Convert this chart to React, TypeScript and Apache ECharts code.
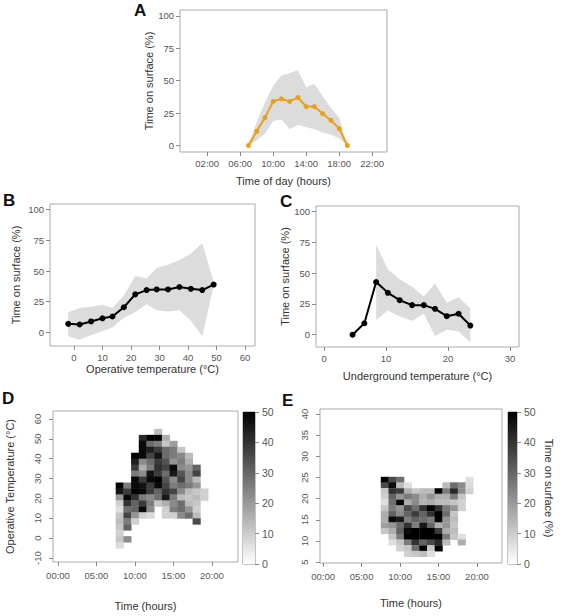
import React, { useEffect, useRef } from "react";
import * as echarts from "echarts";

const FONT = "'Liberation Sans', Arial, sans-serif";

// ---------- Panel A: time of day ----------
const hoursA = [7, 8, 9, 10, 11, 12, 13, 14, 15, 16, 17, 18, 19];
const surfaceA = [0, 11, 21.5, 34, 36, 34, 37, 30, 30, 24.5, 19.5, 13, 0];
const lowerA = [0, 4, 9, 19, 20, 12.5, 16, 14, 12.5, 10, 8.5, 5.5, 0];
const upperA = [0, 18, 33, 46, 54, 56, 58, 45, 47.5, 38, 29, 21.5, 0];
const hourTicksA = [2, 6, 10, 14, 18, 22];
const pctTicks = [0, 25, 50, 75, 100];

// ---------- Panel B: operative temperature ----------
const tempB = [-2, 2, 6, 10, 13.5, 17.5, 21.5, 25.5, 29, 33, 37, 41, 45, 49];
const surfaceB = [7, 6.5, 9, 11.5, 13, 20.5, 31, 34.5, 35, 35, 37, 35.5, 34.5, 39];
const lowerB = [-3, -6, -2, 1, 4, 12, 16.5, 23, 18, 17, 18, 9.5, -3, 38];
const upperB = [16.5, 20, 21, 22.5, 20, 30, 46, 44, 52.5, 55, 59, 64, 72.5, 41];
const tempTicksB = [0, 10, 20, 30, 40, 50, 60];

// ---------- Panel C: underground temperature ----------
const tempC = [4.6, 6.5, 8.4, 10.3, 12.2, 14.2, 16.1, 17.9, 19.8, 21.7, 23.6];
const surfaceC = [0, 9.3, 42.8, 34, 28, 24, 24, 21, 15, 17, 7.4];
const lowerC = [null, null, 12, 19.6, 14.7, 11.4, 17, -1, 4, 2.5, -6];
const upperC = [null, null, 73, 53, 45, 39, 31, 41.5, 26, 30.5, 21.5];
const tempTicksC = [0, 10, 20, 30];

// ---------- Panel D: heatmap hour x operative temperature ----------
const hoursHeat = [8, 9, 10, 11, 12, 13, 14, 15, 16, 17, 18, 19];
const tempBinsD = [53.5, 50.5, 47.5, 44.5, 41.5, 38.5, 35.5, 32.5, 29.5, 26.5, 23.5, 20.5, 17.5, 14.5, 11.5, 8.5, 5.5, 2.5, -0.5, -3.5];
const binSizeD = 3;
const _ = null;
const surfaceD = [
  [_, _, _, _, _, 12, _, _, _, _, _, _],
  [_, _, _, 42, 50, 50, 15, _, _, _, _, _],
  [_, _, _, 48, 28, 25, 10, 18, _, _, _, _],
  [_, _, _, 48, 44, 38, 28, 25, 10, _, _, _],
  [_, _, 50, 48, 36, 46, 28, 25, 22, 12, _, _],
  [_, _, 44, 22, 28, 38, 33, 20, 25, 15, _, _],
  [_, _, 38, 15, 25, 40, 36, 48, 22, 20, 30, _],
  [_, _, 25, 22, 46, 38, 28, 45, 33, 22, 36, _],
  [_, _, 48, 38, 48, 50, 33, 22, 36, 22, 12, _],
  [50, 25, 48, 46, 38, 48, 36, 25, 28, 25, 20, _],
  [46, 38, 50, 48, 38, 30, 40, 36, 22, 12, 10, 8],
  [20, 48, 40, 25, 22, 28, 45, 25, 12, 10, 12, 8],
  [8, 40, 30, 38, 25, 10, 15, 22, 28, 12, 10, _],
  [5, 28, 30, 48, 22, _, 8, 25, 28, 20, 8, _],
  [10, 36, 20, 8, 6, _, 8, 8, 22, 28, 12, _],
  [12, 25, 8, _, _, _, _, _, _, _, 35, _],
  [10, 30, _, _, _, _, _, _, _, _, _, _],
  [8, _, _, _, _, _, _, _, _, _, _, _],
  [10, 22, _, _, _, _, _, _, _, _, _, _],
  [6, _, _, _, _, _, _, _, _, _, _, _],
];
const hourTicksHeat = [0, 5, 10, 15, 20];
const tempTicksD = [-10, 0, 10, 20, 30, 40, 50, 60];

// ---------- Panel E: heatmap hour x underground temperature ----------
const tempBinsE = [24.5, 23.2, 21.8, 20.5, 19.1, 17.8, 16.4, 15.1, 13.7, 12.4, 11.0, 9.7, 8.3, 7.0];
const binSizeE = 1.35;
const surfaceE = [
  [50, 35, 28, _, _, _, _, _, _, _, _, 5],
  [35, 48, 12, 5, _, _, _, _, 12, 28, 22, 6],
  [10, 40, 38, 15, 10, 12, 12, 50, 25, 42, 22, 8],
  [8, 30, 20, 25, 22, 15, 20, 15, 15, 25, 10, _],
  [5, 28, 50, 15, 22, 14, 15, 12, 12, 10, 8, _],
  [10, 25, 20, 35, 28, 40, 50, 40, 25, 20, 8, _],
  [15, 30, 22, 30, 38, 30, 40, 50, 28, 10, _, _],
  [15, 48, 45, 25, 30, 28, 25, 50, 20, 12, _, _],
  [18, 20, 28, 40, 25, 45, 30, 15, 20, 10, _, _],
  [10, 15, 30, 48, 50, 50, 50, 38, 15, 12, _, _],
  [_, 10, 25, 50, 50, 50, 50, 50, 25, 10, 5, _],
  [_, 5, 10, 25, 40, 30, 35, 42, 12, _, 15, _],
  [_, _, 8, 10, 28, 50, 10, 50, _, _, _, _],
  [_, _, _, 8, 10, 12, 5, _, _, _, _, _],
];
const tempTicksE = [5, 10, 15, 20, 25, 30, 35, 40];
const colorTicks = [0, 10, 20, 30, 40, 50];

const hhmm = (v: number) => String(v).padStart(2, "0") + ":00";

function axis(o: any) {
  return {
    type: "value",
    gridIndex: o.grid,
    min: o.min,
    max: o.max,
    position: o.position,
    show: o.show ?? true,
    axisLine: { show: false, onZero: false },
    axisTick: { show: true, length: 4, lineStyle: { color: "#888", width: 1 }, customValues: o.ticks },
    axisLabel: {
      customValues: o.ticks,
      color: "#555",
      fontSize: o.fontSize ?? 9.5,
      fontFamily: FONT,
      margin: o.margin ?? 6,
      rotate: o.rotate ?? 0,
      formatter: o.formatter,
    },
    splitLine: { show: false },
    name: o.name,
    nameLocation: "middle",
    nameGap: o.nameGap,
    nameRotate: o.nameRotate,
    nameTextStyle: { color: "#333", fontSize: o.nameSize ?? 11, fontFamily: FONT },
  };
}

function band(xs: number[], lower: any[], upper: any[], idx: number) {
  const pts = xs.map((x, i) => [x, lower[i], upper[i]]).filter((p) => p[1] != null);
  return {
    type: "custom", xAxisIndex: idx, yAxisIndex: idx, data: pts,
    encode: { x: 0, y: [1, 2] }, silent: true, z: 1,
    renderItem: (params: any, api: any) => {
      if (params.dataIndex !== 0) return null;
      const up = pts.map((p) => api.coord([p[0], p[2]]));
      const lo = pts.map((p) => api.coord([p[0], p[1]])).reverse();
      return { type: "polygon", shape: { points: up.concat(lo) }, style: { fill: "#dcdcdc" } };
    },
  };
}

function mainLine(xs: number[], ys: number[], idx: number, color: string, size: number) {
  return {
    type: "line", xAxisIndex: idx, yAxisIndex: idx,
    data: xs.map((x, i) => [x, ys[i]]),
    symbol: "circle", symbolSize: size,
    itemStyle: { color },
    lineStyle: { color, width: 2 },
    z: 3,
  };
}

function heat(temps: number[], grid: any[][], bin: number, idx: number) {
  const data: number[][] = [];
  temps.forEach((t, r) =>
    grid[r].forEach((v, c) => {
      if (v != null) data.push([hoursHeat[c], t, v]);
    })
  );
  return {
    type: "custom", xAxisIndex: idx, yAxisIndex: idx, data,
    encode: { x: 0, y: 1 },
    renderItem: (_p: any, api: any) => {
      const x = api.value(0), y = api.value(1), v = api.value(2);
      const p1 = api.coord([x - 0.5, y + bin / 2]);
      const p2 = api.coord([x + 0.5, y - bin / 2]);
      const g = Math.round(248 * (1 - Math.min(v, 50) / 50));
      return {
        type: "rect",
        shape: { x: p1[0], y: p1[1], width: p2[0] - p1[0] + 0.4, height: p2[1] - p1[1] + 0.4 },
        style: { fill: `rgb(${g},${g},${g})` },
      };
    },
  };
}

function colorBar(idx: number) {
  return {
    type: "custom", xAxisIndex: idx, yAxisIndex: idx, data: [[0.5, 25]],
    renderItem: (_p: any, api: any) => {
      const p1 = api.coord([0, 50]);
      const p2 = api.coord([1, 0]);
      return {
        type: "rect",
        shape: { x: p1[0], y: p1[1], width: p2[0] - p1[0], height: p2[1] - p1[1] },
        style: {
          fill: new echarts.graphic.LinearGradient(0, 0, 0, 1, [
            { offset: 0, color: "#000" },
            { offset: 1, color: "#fff" },
          ]),
        },
      };
    },
  };
}

const gridStyle = { show: true, borderColor: "#aaa", borderWidth: 1, backgroundColor: "transparent" };

export default function App() {
  const ref = useRef<HTMLDivElement>(null);
  useEffect(() => {
    if (!ref.current) return;
    const chart = echarts.init(ref.current, undefined, { renderer: "svg" });
    const letter = (t: string, x: number, y: number) => ({
      type: "text", left: x, top: y,
      style: { text: t, font: `bold 17px ${FONT}`, fill: "#111" },
    });
    chart.setOption({
      animation: false,
      backgroundColor: "#fff",
      grid: [
        { left: 180, top: 10, width: 207, height: 142, ...gridStyle },
        { left: 50, top: 204, width: 205, height: 142, ...gridStyle },
        { left: 316, top: 206, width: 203, height: 141, ...gridStyle },
        { left: 53, top: 411, width: 185, height: 151, ...gridStyle },
        { left: 243, top: 412, width: 12, height: 152, ...gridStyle, borderColor: "#888" },
        { left: 320, top: 409, width: 182, height: 154, ...gridStyle },
        { left: 508, top: 412, width: 9, height: 152, ...gridStyle, borderColor: "#888" },
      ],
      xAxis: [
        axis({ grid: 0, min: -1.3, max: 23.8, ticks: hourTicksA, formatter: hhmm, name: "Time of day (hours)", nameGap: 23 }),
        axis({ grid: 1, min: -8.4, max: 63.5, ticks: tempTicksB, name: "Operative temperature (°C)", nameGap: 17 }),
        axis({ grid: 2, min: -1.3, max: 31.45, ticks: tempTicksC, name: "Underground temperature (°C)", nameGap: 23 }),
        axis({ grid: 3, min: -0.65, max: 23.4, ticks: hourTicksHeat, formatter: hhmm, name: "Time (hours)", nameGap: 38, margin: 8 }),
        { type: "value", gridIndex: 4, min: 0, max: 1, show: false },
        axis({ grid: 5, min: -0.4, max: 23.25, ticks: hourTicksHeat, formatter: hhmm, name: "Time (hours)", nameGap: 34, margin: 8 }),
        { type: "value", gridIndex: 6, min: 0, max: 1, show: false },
      ],
      yAxis: [
        axis({ grid: 0, min: -5, max: 104.5, ticks: pctTicks, name: "Time on surface (%)", nameGap: 25, nameRotate: 90 }),
        axis({ grid: 1, min: -11, max: 104.5, ticks: pctTicks, name: "Time on surface (%)", nameGap: 29, nameRotate: 90 }),
        axis({ grid: 2, min: -10, max: 104.5, ticks: pctTicks, name: "Time on surface (%)", nameGap: 25, nameRotate: 90 }),
        axis({ grid: 3, min: -12, max: 64, ticks: tempTicksD, rotate: 90, margin: 11, name: "Operative Temperature (°C)", nameGap: 38, nameRotate: 90 }),
        axis({ grid: 4, min: 0, max: 50, ticks: colorTicks, position: "right", margin: 7, fontSize: 10.5 }),
        axis({ grid: 5, min: 4.8, max: 41.2, ticks: tempTicksE, rotate: 90, margin: 11 }),
        axis({ grid: 6, min: 0, max: 50, ticks: colorTicks, position: "right", margin: 7, fontSize: 10.5, name: "Time on surface (%)", nameGap: 26, nameRotate: -90 }),
      ],
      series: [
        band(hoursA, lowerA, upperA, 0),
        mainLine(hoursA, surfaceA, 0, "#E8A11C", 5),
        band(tempB, lowerB, upperB, 1),
        mainLine(tempB, surfaceB, 1, "#000", 6),
        band(tempC, lowerC, upperC, 2),
        mainLine(tempC, surfaceC, 2, "#000", 6),
        heat(tempBinsD, surfaceD, binSizeD, 3),
        colorBar(4),
        heat(tempBinsE, surfaceE, binSizeE, 5),
        colorBar(6),
      ],
      graphic: [
        letter("A", 134, 2),
        letter("B", 3, 192),
        letter("C", 280, 193),
        letter("D", 2, 390),
        letter("E", 282, 392),
      ],
    });
    return () => chart.dispose();
  }, []);
  return <div ref={ref} style={{ position: "fixed", left: 0, top: 0, width: 566, height: 616 }} />;
}
